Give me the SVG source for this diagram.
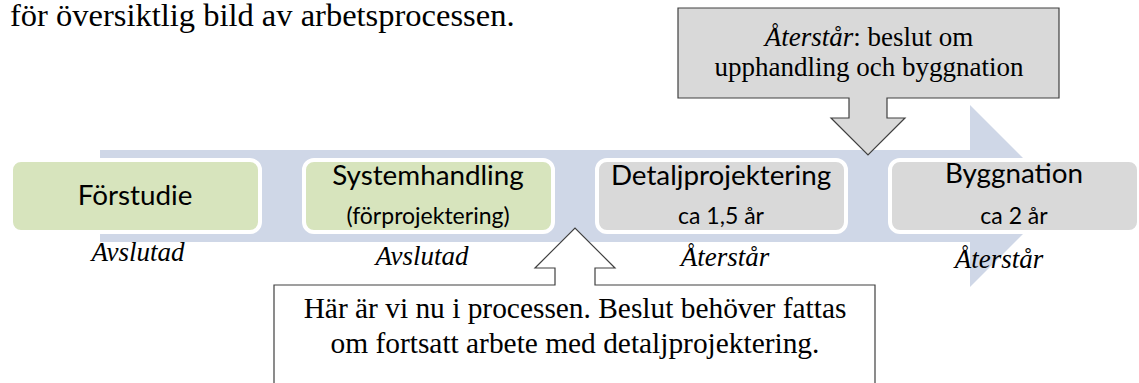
<svg xmlns="http://www.w3.org/2000/svg" width="1139" height="383" viewBox="0 0 1139 383">
  <defs>
    <style>
      .serif { font-family: "Liberation Serif", "Times New Roman", serif; fill: #000; }
      .it { font-style: italic; }
      .sans { font-family: Lato, "Liberation Sans", sans-serif; fill: #000; text-anchor: middle; }
      .main { font-size: 27.8px; }
      .sub { font-size: 23px; }
      .box { stroke: #ffffff; stroke-width: 4; }
      .green { fill: #d7e4bd; }
      .grey { fill: #d9d9d9; }
      .callout { stroke: #404040; stroke-width: 1.2; }
      .lbl { font-size: 27px; text-anchor: middle; }
    </style>
  </defs>
  <rect width="1139" height="383" fill="#ffffff"/>

  <text class="serif" x="10" y="26" font-size="32.5">för översiktlig bild av arbetsprocessen.</text>

  <g id="connectors">
    <path d="M100,150 H970 V105 L1061,196 L970,287 V242 H100 Z" fill="#cfd7e7"/>
  </g>

  <g id="forstudie">
    <rect class="box green" x="11" y="160" width="249" height="72" rx="10"/>
    <text class="sans main" x="135" y="205">Förstudie</text>
    <text class="serif it lbl" x="138" y="261">Avslutad</text>
  </g>

  <g id="systemhandling">
    <rect class="box green" x="304" y="160" width="249" height="72" rx="10"/>
    <text class="sans main" x="428" y="185">Systemhandling</text>
    <text class="sans sub" x="428" y="224">(förprojektering)</text>
    <text class="serif it lbl" x="422" y="265">Avslutad</text>
  </g>

  <g id="detaljprojektering">
    <rect class="box grey" x="597" y="160" width="249" height="72" rx="10"/>
    <text class="sans main" x="721" y="185">Detaljprojektering</text>
    <text class="sans sub" x="721" y="224">ca 1,5 år</text>
    <text class="serif it lbl" x="725" y="266">Återstår</text>
  </g>

  <g id="byggnation">
    <rect class="box grey" x="890" y="160" width="249" height="72" rx="10"/>
    <text class="sans main" x="1014" y="183">Byggnation</text>
    <text class="sans sub" x="1014" y="224">ca 2 år</text>
    <text class="serif it lbl" x="999" y="268">Återstår</text>
  </g>

  <g id="callout-top">
    <path class="callout grey" d="M678,8 H1059 V98 H887 V118 H905 L868,155 L831,118 H849 V98 H678 Z"/>
    <text class="serif lbl" x="869" y="46"><tspan class="it">Återstår</tspan>: beslut om</text>
    <text class="serif lbl" x="869" y="76">upphandling och byggnation</text>
  </g>

  <g id="callout-bottom">
    <path class="callout" fill="#ffffff" d="M274,285 H555 V268 H535 L575,228 L615,268 H595 V285 H875 V395 H274 Z"/>
    <text class="serif" font-size="29.4" text-anchor="middle" x="575" y="318">Här är vi nu i processen. Beslut behöver fattas</text>
    <text class="serif" font-size="29.4" text-anchor="middle" x="575" y="353">om fortsatt arbete med detaljprojektering.</text>
  </g>
</svg>
